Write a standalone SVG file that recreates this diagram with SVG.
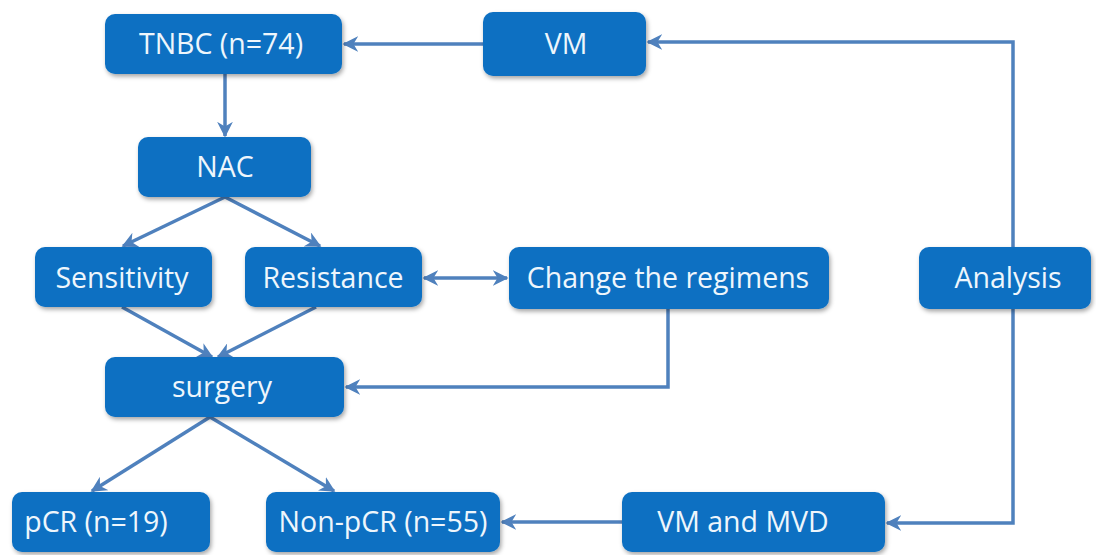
<svg xmlns="http://www.w3.org/2000/svg" width="1096" height="555" viewBox="0 0 1096 555">
<style>
.box{fill:#0A6FC2;filter:url(#sh);}
.lbl{font-family:"Open Sans","Noto Sans",sans-serif;font-size:28.5px;fill:#EEF6FC;text-anchor:middle;dominant-baseline:central;}
.con{stroke:#4F81BD;stroke-width:3.5;fill:none;}
</style>
<defs>
<filter id="sh" x="-10%" y="-20%" width="120%" height="150%">
<feDropShadow dx="1.5" dy="2.5" stdDeviation="2" flood-color="#000" flood-opacity="0.35"/>
</filter>
<marker id="ah" viewBox="0 0 10 10" refX="9" refY="5" markerWidth="4.5" markerHeight="4.5" orient="auto-start-reverse" markerUnits="strokeWidth">
<path d="M0,0 L10,5 L0,10 L3,5 Z" fill="#4F81BD"/>
</marker>
</defs>
<g id="connectors">
<line class="con" x1="483" y1="44" x2="344" y2="44" marker-end="url(#ah)"/>
<polyline class="con" points="1013,247 1013,42 648,42" marker-end="url(#ah)"/>
<line class="con" x1="225" y1="74" x2="225" y2="136" marker-end="url(#ah)"/>
<line class="con" x1="225" y1="197" x2="123" y2="246" marker-end="url(#ah)"/>
<line class="con" x1="225" y1="197" x2="320" y2="246" marker-end="url(#ah)"/>
<line class="con" x1="424" y1="278" x2="507" y2="278" marker-start="url(#ah)" marker-end="url(#ah)"/>
<line class="con" x1="122" y1="307" x2="212" y2="357" marker-end="url(#ah)"/>
<line class="con" x1="316" y1="307" x2="218" y2="357" marker-end="url(#ah)"/>
<polyline class="con" points="668,309 668,387 346,387" marker-end="url(#ah)"/>
<polyline class="con" points="1013,309 1013,523 887,523" marker-end="url(#ah)"/>
<line class="con" x1="622" y1="522" x2="502" y2="522" marker-end="url(#ah)"/>
<line class="con" x1="210" y1="417" x2="92" y2="491" marker-end="url(#ah)"/>
<line class="con" x1="210" y1="417" x2="334" y2="491" marker-end="url(#ah)"/>
</g>
<g id="tnbc"><rect class="box" x="105" y="14" width="237" height="60" rx="10"/><text class="lbl" x="221" y="43">TNBC (n=74)</text></g>
<g id="vm"><rect class="box" x="483" y="12" width="163" height="64" rx="10"/><text class="lbl" x="566" y="43">VM</text></g>
<g id="nac"><rect class="box" x="138" y="137" width="173" height="60" rx="10"/><text class="lbl" x="225" y="166">NAC</text></g>
<g id="sensitivity"><rect class="box" x="35" y="247" width="177" height="60" rx="10"/><text class="lbl" x="122" y="277">Sensitivity</text></g>
<g id="resistance"><rect class="box" x="245" y="247" width="177" height="60" rx="10"/><text class="lbl" x="333" y="277">Resistance</text></g>
<g id="change"><rect class="box" x="509" y="247" width="320" height="62" rx="10"/><text class="lbl" x="668" y="277">Change the regimens</text></g>
<g id="analysis"><rect class="box" x="919" y="247" width="172" height="62" rx="10"/><text class="lbl" x="1008" y="277">Analysis</text></g>
<g id="surgery"><rect class="box" x="105" y="357" width="239" height="60" rx="10"/><text class="lbl" x="222" y="386">surgery</text></g>
<g id="pcr"><rect class="box" x="12" y="492" width="198" height="60" rx="10"/><text class="lbl" x="96" y="521">pCR (n=19)</text></g>
<g id="nonpcr"><rect class="box" x="266" y="492" width="234" height="60" rx="10"/><text class="lbl" x="383" y="521">Non-pCR (n=55)</text></g>
<g id="vmmvd"><rect class="box" x="622" y="492" width="263" height="60" rx="10"/><text class="lbl" x="743" y="521">VM and MVD</text></g>
</svg>
